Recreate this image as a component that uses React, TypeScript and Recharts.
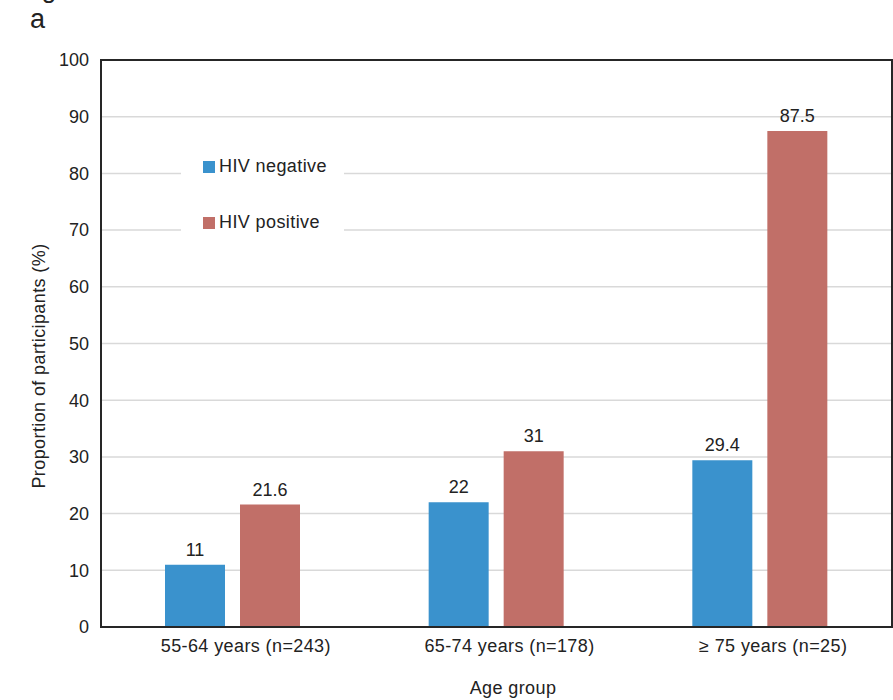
import React from 'react';
import { BarChart, Bar, XAxis, YAxis, CartesianGrid, LabelList, ReferenceArea } from 'recharts';

const categories = ['55-64 years (n=243)', '65-74 years (n=178)', '≥ 75 years (n=25)'];
const hivNegative = [11, 22, 29.4];
const hivPositive = [21.6, 31, 87.5];
const yTicks = [0, 10, 20, 30, 40, 50, 60, 70, 80, 90, 100];

const data = categories.map((c, i) => ({ cat: c, neg: hivNegative[i], pos: hivPositive[i] }));

const FONT = '"Liberation Sans", Arial, sans-serif';
const BLUE = '#3a92cd';
const RED = '#c16f68';
const TEXT = '#222222';
const AXIS = '#262626';
const LS = 0.4;

const LegendBox = () => (
  <div style={{ width: 163, height: 95, background: '#fff', position: 'relative', fontFamily: FONT, fontSize: 18, letterSpacing: LS, color: TEXT }}>
    {[{ name: 'HIV negative', color: BLUE, top: 16 }, { name: 'HIV positive', color: RED, top: 72 }].map((it) => (
      <div key={it.name} style={{ position: 'absolute', left: 22, top: it.top - 5, display: 'flex', alignItems: 'center', lineHeight: '21px' }}>
        <span style={{ display: 'inline-block', width: 12, height: 12, background: it.color, marginRight: 4 }} />
        <span>{it.name}</span>
      </div>
    ))}
  </div>
);

export default function App() {
  return (
    <div style={{ position: 'absolute', left: 0, top: 0, width: 893, height: 700, background: '#fff', fontFamily: FONT, overflow: 'hidden' }}>
      <BarChart
        width={893}
        height={700}
        data={data}
        margin={{ top: 60, right: 1, left: 0, bottom: 0 }}
        barSize={60}
        barGap={15}
      >
        <CartesianGrid horizontal={true} vertical={false} stroke="#d9d9d9" strokeWidth={1.5} />
        <XAxis
          dataKey="cat"
          height={73}
          tickLine={false}
          tickSize={6}
          tickMargin={6}
          axisLine={{ stroke: AXIS, strokeWidth: 2 }}
          tick={{ fill: TEXT, fontSize: 18, fontFamily: FONT, letterSpacing: LS, dx: 13 }}
          interval={0}
          label={() => (
            <text x={513} y={694} textAnchor="middle" fill={TEXT} fontSize={18} letterSpacing={LS} fontFamily={FONT}>Age group</text>
          )}
        />
        <YAxis
          width={101}
          domain={[0, 100]}
          ticks={yTicks}
          tickLine={false}
          tickMargin={6}
          axisLine={{ stroke: AXIS, strokeWidth: 2 }}
          tick={{ fill: TEXT, fontSize: 18, fontFamily: FONT }}
          interval={0}
          label={() => (
            <text x={45} y={366} textAnchor="middle" fill={TEXT} fontSize={18} letterSpacing={LS} fontFamily={FONT} transform="rotate(-90, 45, 366)">Proportion of participants (%)</text>
          )}
        />
        <Bar dataKey="neg" name="HIV negative" fill={BLUE} isAnimationActive={false}>
          <LabelList dataKey="neg" position="top" offset={9} fill={TEXT} fontSize={18} fontFamily={FONT} />
        </Bar>
        <Bar dataKey="pos" name="HIV positive" fill={RED} isAnimationActive={false}>
          <LabelList dataKey="pos" position="top" offset={9} fill={TEXT} fontSize={18} fontFamily={FONT} />
        </Bar>
        <ReferenceArea y1={0} y2={100} fill="none" fillOpacity={0} stroke={AXIS} strokeWidth={2} ifOverflow="visible" />
      </BarChart>
      <div style={{ position: 'absolute', left: 181, top: 145 }}>
        <LegendBox />
      </div>
      <div style={{ position: 'absolute', left: 20, top: -26, fontSize: 26, lineHeight: '30px', color: TEXT, fontFamily: FONT }}>Fig</div>
      <div style={{ position: 'absolute', left: 30, top: 4, fontSize: 27, lineHeight: '30px', color: TEXT, fontFamily: FONT }}>a</div>
    </div>
  );
}
